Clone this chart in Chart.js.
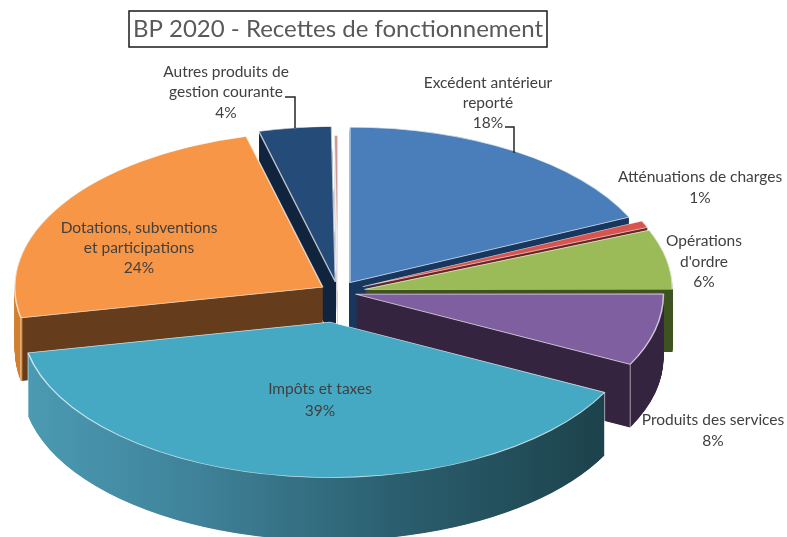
<!DOCTYPE html>
<html lang="fr">
<head>
    <meta charset="UTF-8">
    <title>BP 2020 - Recettes de fonctionnement</title>
    <style>
        html, body { margin: 0; padding: 0; background: #fff; }
        #wrap { width: 787px; height: 537px; position: relative; overflow: hidden; }
    </style>
</head>
<body>
    <div id="wrap"><canvas id="recettesChart" width="787" height="537"></canvas></div>
    <script src="https://cdn.jsdelivr.net/npm/chart.js"></script>
    <script>
        // Valeurs (en %)
        const categories = [
            'Excédent antérieur reporté',
            'Atténuations de charges',
            "Opérations d'ordre",
            'Produits des services',
            'Impôts et taxes',
            'Dotations, subventions et participations',
            'Autres produits de gestion courante',
            'Autres'
        ];
        const values = [18.1, 0.7, 6.2, 7.5, 39.4, 24.2, 3.8, 0.2];
        const chartTitle = 'BP 2020 - Recettes de fonctionnement';

        // Style des tranches
        const topColors = ['#4a7ebb', '#d9534f', '#9bbb59', '#7f5f9f', '#46a9c4', '#f79646', '#254b78', '#d09a98'];
        const wallStops = [
            [[0, '#17375e']],
            [[0, '#6e2422']],
            [[0, '#3f5320']],
            [[0, '#34243f']],
            [[0, '#4a9ab2'], [0.04, '#4a9ab2'], [0.25, '#3f8299'], [0.5, '#2b5f6f'], [0.77, '#1c424b'], [1, '#1c424b']],
            [[0, '#d0802e'], [0.028, '#d0802e'], [0.029, '#653d1c'], [1, '#653d1c']],
            [[0, '#10243e']],
            [[0, '#d8d0d0']]
        ];
        const explode = [22, 27, 27, 18, 60, 18, 20, 2];
        const squash = 0.505;
        const depth = 63;

        // Étiquettes (centre x, y de chaque ligne)
        const labelBoxes = [
            { x: 488, y: [83, 103, 123], lines: ['Excédent antérieur', 'reporté'] },
            { x: 700, y: [177, 198], lines: ['Atténuations de charges'] },
            { x: 704, y: [241, 262, 282], lines: ['Opérations', "d'ordre"] },
            { x: 713, y: [420, 441], lines: ['Produits des services'] },
            { x: 320, y: [389, 411], lines: ['Impôts et taxes'] },
            { x: 139, y: [228, 248, 268], lines: ['Dotations, subventions', 'et participations'] },
            { x: 226, y: [72, 92, 113], lines: ['Autres produits de', 'gestion courante'] }
        ];
        const leaders = [
            [[505, 127], [514, 127], [514, 153]],
            [[285, 97], [295, 97], [295, 128]]
        ];

        const pie3d = {
            id: 'pie3d',
            afterDatasetsUpdate(chart) {
                // écarte chaque tranche de son explosion
                chart.getDatasetMeta(0).data.forEach((arc, i) => {
                    const mid = (arc.startAngle + arc.endAngle) / 2;
                    arc.x += Math.cos(mid) * explode[i];
                    arc.y += Math.sin(mid) * explode[i];
                });
            },
            beforeDatasetsDraw(chart) {
                const ctx = chart.ctx;
                const area = chart.chartArea;
                const cy = (area.top + area.bottom) / 2;
                ctx.save();
                ctx.translate(0, cy);
                ctx.scale(1, squash);
                ctx.translate(0, -cy);

                // parois, de l'arrière vers l'avant
                const h = depth / squash;
                const arcs = chart.getDatasetMeta(0).data
                    .map((arc, i) => ({ arc, i }))
                    .sort((a, b) => a.arc.y - b.arc.y);
                arcs.forEach(({ arc, i }) => {
                    const grad = ctx.createLinearGradient(0, 0, 787, 0);
                    const stops = wallStops[i];
                    stops.forEach(s => grad.addColorStop(s[0], s[1]));
                    if (stops.length === 1) grad.addColorStop(1, stops[0][1]);
                    ctx.fillStyle = grad;
                    for (let d = h; d > 0; d -= 1) {
                        ctx.beginPath();
                        ctx.moveTo(arc.x, arc.y + d);
                        ctx.arc(arc.x, arc.y + d, arc.outerRadius, arc.startAngle, arc.endAngle);
                        ctx.closePath();
                        ctx.fill();
                    }
                    // arêtes verticales claires, seulement à l'avant
                    ctx.strokeStyle = 'rgba(255,255,255,0.75)';
                    ctx.lineWidth = 1;
                    [arc.startAngle, arc.endAngle].forEach(a => {
                        if (Math.sin(a) <= 0) return;
                        const px = arc.x + Math.cos(a) * arc.outerRadius;
                        const py = arc.y + Math.sin(a) * arc.outerRadius;
                        ctx.beginPath();
                        ctx.moveTo(px, py);
                        ctx.lineTo(px, py + h);
                        ctx.stroke();
                    });
                });
            },
            afterDatasetsDraw(chart) {
                const ctx = chart.ctx;
                ctx.restore();

                // étiquettes
                ctx.save();
                ctx.font = '15.5px Lato, "Open Sans", sans-serif';
                ctx.fillStyle = '#404040';
                ctx.textAlign = 'center';
                ctx.textBaseline = 'middle';
                labelBoxes.forEach((box, i) => {
                    const texts = box.lines.concat(Math.round(values[i]) + '%');
                    texts.forEach((t, j) => ctx.fillText(t, box.x, box.y[j]));
                });

                // traits de rappel
                ctx.strokeStyle = '#262626';
                ctx.lineWidth = 1.5;
                leaders.forEach(pts => {
                    ctx.beginPath();
                    pts.forEach((p, j) => j ? ctx.lineTo(p[0], p[1]) : ctx.moveTo(p[0], p[1]));
                    ctx.stroke();
                });

                // cadre du titre
                ctx.strokeStyle = '#1a1a1a';
                ctx.lineWidth = 1.5;
                ctx.strokeRect(129, 11, 418, 36);
                ctx.restore();
            }
        };

        new Chart(document.getElementById('recettesChart'), {
            type: 'pie',
            data: {
                labels: categories,
                datasets: [{
                    data: values,
                    backgroundColor: topColors,
                    borderColor: 'rgba(255,255,255,0.7)',
                    borderWidth: 1.5,
                    clip: false
                }]
            },
            options: {
                responsive: false,
                animation: false,
                events: [],
                radius: 308,
                layout: { padding: { left: 0, right: 111, top: 0, bottom: 0 } },
                plugins: {
                    legend: { display: false },
                    tooltip: { enabled: false },
                    title: {
                        display: true,
                        text: chartTitle,
                        fullSize: false,
                        color: '#595959',
                        font: { family: 'Lato, "Open Sans", sans-serif', size: 24, weight: 'normal', lineHeight: 1.2 },
                        padding: { top: 15, bottom: 3.2 }
                    }
                }
            },
            plugins: [pie3d]
        });
    </script>
</body>
</html>
